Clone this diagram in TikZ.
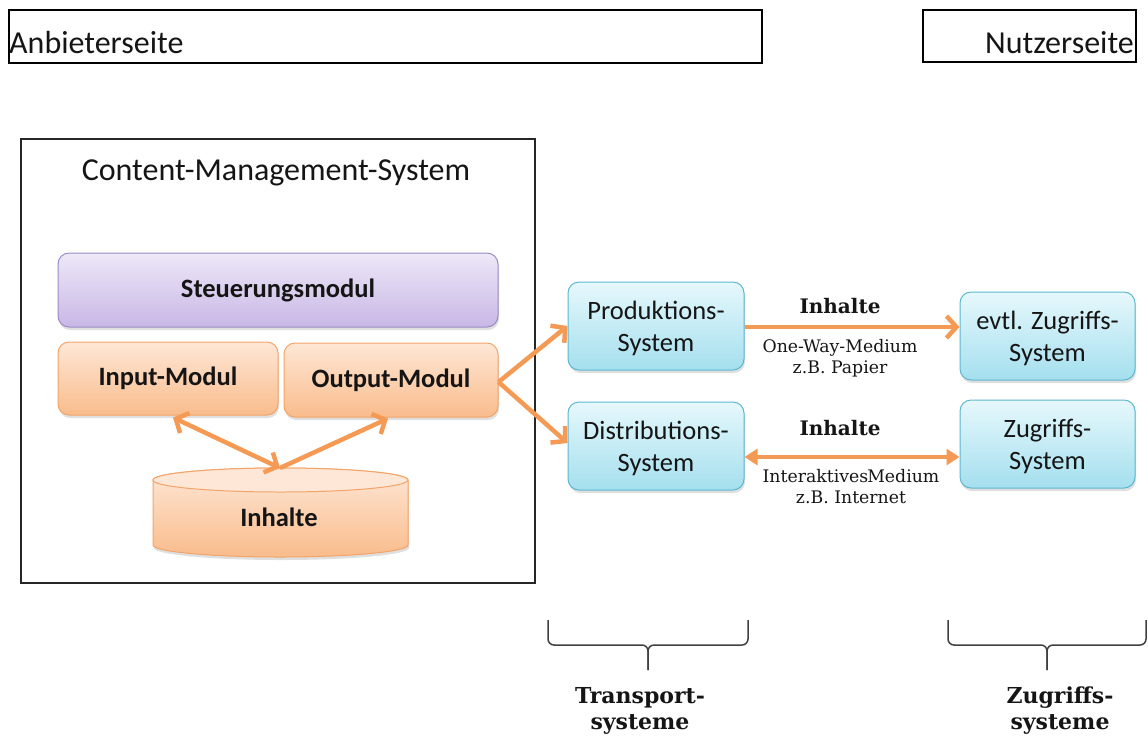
\documentclass[tikz,border=0pt]{standalone}
\usepackage{fontspec}
\setmainfont{Carlito}
\newfontfamily\lblserif{DejaVu Serif}
\usetikzlibrary{arrows.meta,shadows,calc}
\definecolor{arr}{HTML}{F59A55}
\definecolor{purpT}{HTML}{EEE8F7}
\definecolor{purpB}{HTML}{C8B7E6}
\definecolor{purpD}{HTML}{9C8CC6}
\definecolor{orgT}{HTML}{FEE7D6}
\definecolor{orgB}{HTML}{F9BC8C}
\definecolor{orgD}{HTML}{F3A468}
\definecolor{bluT}{HTML}{E6F8FC}
\definecolor{bluB}{HTML}{A4DFEE}
\definecolor{bluD}{HTML}{5DB6CF}
\definecolor{txt}{HTML}{151515}
\begin{document}
\begin{tikzpicture}[x=1pt,y=-1pt,
  every node/.style={text=txt},
  sidebox/.style={draw=black,line width=2.2pt,fill=white},
  modbox/.style={rounded corners=11pt,line width=1pt,align=center,inner sep=0pt,
     drop shadow={opacity=0.25,shadow xshift=1pt,shadow yshift=-3pt},
     font=\fontsize{26.5}{32}\selectfont\bfseries},
  purpbox/.style={modbox,draw=purpD,top color=purpT,bottom color=purpB},
  orgbox/.style={modbox,draw=orgD,top color=orgT,bottom color=orgB},
  blubox/.style={modbox,draw=bluD,top color=bluT,bottom color=bluB,
     font=\fontsize{26.5}{32}\selectfont,text depth=0pt},
  flow/.style={draw=arr,line width=4.5pt},
  barb/.style={flow,-{Straight Barb[length=10pt,width=22pt]}},
  dbarb/.style={flow,{Straight Barb[length=10pt,width=22pt]}-{Straight Barb[length=10pt,width=22pt]}},
  dtri/.style={flow,{Triangle[length=13pt,width=16pt]}-{Triangle[length=13pt,width=16pt]}},
  bigtxt/.style={font=\fontsize{32}{38}\selectfont,inner sep=0pt},
  arrlbl/.style={font=\lblserif\bfseries\fontsize{20}{24}\selectfont,inner sep=0pt,anchor=base},
  medlbl/.style={font=\lblserif\fontsize{17.3}{20}\selectfont,inner sep=0pt,anchor=base},
  bracelbl/.style={font=\lblserif\bfseries\fontsize{22}{26}\selectfont,inner sep=0pt,align=center,anchor=base},
  bracel/.style={draw=black!75,line width=1.5pt,rounded corners=6pt}
]
\useasboundingbox (0,0) rectangle (1148,740);

% top side boxes
\node[sidebox,anchor=north west,minimum width=753pt,minimum height=53pt] (anb) at (8,9) {};
\node[bigtxt,anchor=base west] (anbtxt) at (9,53) {Anbieterseite};
\node[sidebox,anchor=north west,minimum width=213pt,minimum height=52pt] (nutz) at (922,9) {};
\node[bigtxt,anchor=base east] (nutztxt) at (1134,53) {Nutzerseite};

% CMS frame
\node[draw=black!85,line width=1.5pt,anchor=north west,minimum width=514pt,minimum height=444pt] (cms) at (20,138) {};
\node[bigtxt,anchor=base] (cmstitle) at (276,180) {Content-Management-System};

% modules
\node[purpbox,minimum width=440pt,minimum height=74pt] (steu) at (278,290) {Steuerungsmodul};
\node[orgbox,minimum width=220pt,minimum height=73pt] (inp) at (168,378.5) {Input-Modul};
\node[orgbox,minimum width=214pt,minimum height=74pt] (outp) at (391,380) {Output-Modul};

% cylinder
\path[top color=orgT,bottom color=orgB,draw=orgD,line width=1pt,
      drop shadow={opacity=0.25,shadow xshift=1pt,shadow yshift=-3pt}]
  (153,480) -- (153,545) arc[start angle=180,end angle=0,x radius=127.5,y radius=12]
  -- (408,480) arc[start angle=0,end angle=-180,x radius=127.5,y radius=12] -- cycle;
\draw[draw=orgD,fill=orgT,line width=1pt] (280.5,480) ellipse[x radius=127.5,y radius=12];
\node[font=\fontsize{26.5}{32}\selectfont\bfseries] (inh) at (279,517) {Inhalte};
\coordinate (inhtop) at (280,468);

% transport and access systems
\node[blubox,minimum width=176pt,minimum height=88pt] (prod) at (656,326) {Produktions-\\System};
\node[blubox,minimum width=176pt,minimum height=88pt] (dist) at (656,446) {Distributions-\\System};
\node[blubox,minimum width=175pt,minimum height=88pt] (evtl) at (1047.5,336) {evtl. Zugriffs-\\System};
\node[blubox,minimum width=175pt,minimum height=88pt] (zug) at (1047.5,444) {Zugriffs-\\System};

% arrows
\draw[dbarb] (inhtop) -- ([xshift=5pt,yshift=-2pt]inp.south);
\draw[barb] (inhtop) -- ([xshift=-3pt,yshift=-1pt]outp.south);
\draw[barb] ([yshift=-2pt]outp.east) -- (prod.west);
\draw[barb] ([yshift=-2pt]outp.east) -- ([yshift=3pt]dist.west);
\draw[barb] ([yshift=-1pt]prod.east) -- ([yshift=-1pt]prod.east -| evtl.west);
\draw[dtri] ([yshift=-11pt]dist.east) -- ([yshift=-11pt]dist.east -| zug.west);

% arrow labels
\node[arrlbl] (l1) at (840,313) {Inhalte};
\node[medlbl] (l1a) at (840,352) {One-Way-Medium};
\node[medlbl] (l1b) at (840,373) {z.B. Papier};
\node[arrlbl] (l2) at (840,435) {Inhalte};
\node[medlbl] (l2a) at (851,482) {Interaktives\hspace{-1pt}Medium};
\node[medlbl] (l2b) at (851,503) {z.B. Internet};

% braces
\draw[bracel] (548,620) -- (548,645) -- (648,645) -- (648,670);
\draw[bracel] (748,620) -- (748,645) -- (648,645) -- (648,670);
\draw[bracel] (948,620) -- (948,645) -- (1047,645) -- (1047,670);
\draw[bracel] (1146,620) -- (1146,645) -- (1047,645) -- (1047,670);
\node[bracelbl] (tr) at (640,729) {Transport-\\systeme};
\node[bracelbl] (zs) at (1060,729) {Zugriffs-\\systeme};
\end{tikzpicture}
\end{document}
